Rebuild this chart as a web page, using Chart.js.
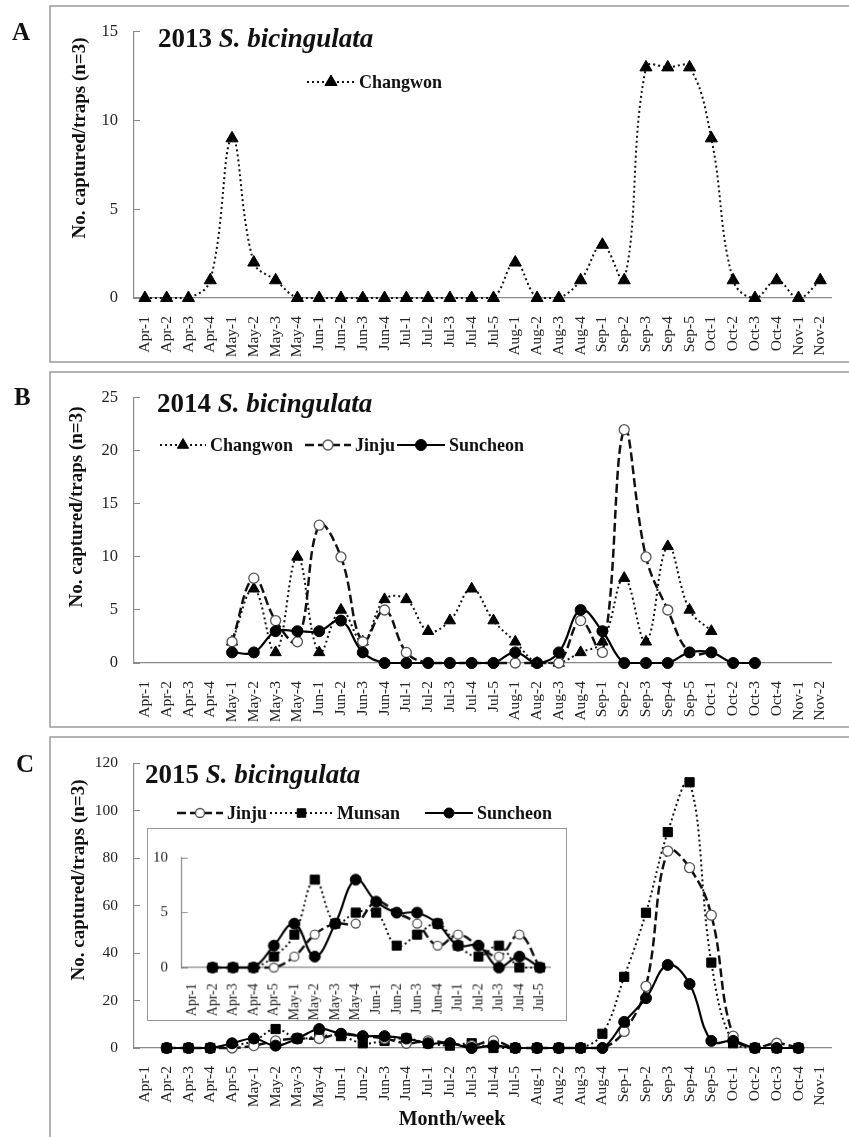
<!DOCTYPE html>
<html>
<head>
<meta charset="utf-8">
<script src="https://cdn.jsdelivr.net/npm/chart.js@4.4.0/dist/chart.umd.min.js"></script>
<style>
  body { margin: 0; background: #fff; }
  #page { position: relative; width: 849px; height: 1137px; overflow: hidden; }
  canvas { position: absolute; left: 0; }
  #inset { left: 147px; top: 828px; border: 1px solid #999; background: #fff; }
</style>
</head>
<body>
<div id="page">
  <canvas id="chartA" width="849" height="366" style="top:0px"></canvas>
  <canvas id="chartB" width="849" height="366" style="top:366px"></canvas>
  <canvas id="chartC" width="849" height="405" style="top:732px"></canvas>
  <canvas id="inset" width="420" height="193"></canvas>
</div>
<script>
// week labels
const weeks1314 = ['Apr-1','Apr-2','Apr-3','Apr-4','May-1','May-2','May-3','May-4','Jun-1','Jun-2','Jun-3','Jun-4',
  'Jul-1','Jul-2','Jul-3','Jul-4','Jul-5','Aug-1','Aug-2','Aug-3','Aug-4','Sep-1','Sep-2','Sep-3','Sep-4','Sep-5',
  'Oct-1','Oct-2','Oct-3','Oct-4','Nov-1','Nov-2'];
const weeks15 = ['Apr-1','Apr-2','Apr-3','Apr-4','Apr-5','May-1','May-2','May-3','May-4','Jun-1','Jun-2','Jun-3','Jun-4',
  'Jul-1','Jul-2','Jul-3','Jul-4','Jul-5','Aug-1','Aug-2','Aug-3','Aug-4','Sep-1','Sep-2','Sep-3','Sep-4','Sep-5',
  'Oct-1','Oct-2','Oct-3','Oct-4','Nov-1'];

// 2013
const changwon2013 = [0,0,0,1, 9,2,1,0, 0,0,0,0, 0,0,0,0,0, 2,0,0,1, 3,1,13,13,13, 9,1,0,1, 0,1];

// 2014
const changwon2014 = [null,null,null,null, 2,7,1,10, 1,5,2,6, 6,3,4,7,4, 2,0,0,1, 2,8,2,11,5, 3,null,null,null, null,null];
const jinju2014 = [null,null,null,null, 2,8,4,2, 13,10,2,5, 1,0,0,0,0, 0,0,0,4, 1,22,10,5,1, 1,null,null,null, null,null];
const suncheon2014 = [null,null,null,null, 1,1,3,3, 3,4,1,0, 0,0,0,0,0, 1,0,1,5, 3,0,0,0,1, 1,0,0,null, null,null];

// 2015
const jinju2015 = [null,0,0,0,0, 1,3,4,4, 6,5,4,2, 3,2,1,3,0, 0,0,0,0, 7,26,83,76,56, 5,0,2,0, null];
const munsan2015 = [null,0,0,0,1, 3,8,4,5, 5,2,3,4, 2,1,2,0,0, 0,0,0,6, 30,57,91,112,36, 2,0,0,0, null];
const suncheon2015 = [null,0,0,0,2, 4,1,4,8, 6,5,5,4, 2,2,0,1,0, 0,0,0,0, 11,21,35,27,3, 3,0,0,0, null];

// inset shows Apr-1 .. Jul-5
const insetCount = 18;

Chart.defaults.font.family = '"Liberation Serif", "Times New Roman", serif';
Chart.defaults.color = '#222';

const SERIF = '"Liberation Serif", "Times New Roman", serif';

// line styles per site
function changwonStyle(r) {
  return { borderColor: '#111', borderWidth: 2, borderDash: [2, 3], pointStyle: 'triangle', pointRadius: r,
    pointBackgroundColor: '#000', pointBorderColor: '#000', pointBorderWidth: 1 };
}
function jinjuStyle(r) {
  return { borderColor: '#111', borderWidth: 2.5, borderDash: [9, 4], pointStyle: 'circle', pointRadius: r,
    pointBackgroundColor: '#fff', pointBorderColor: '#555', pointBorderWidth: 1.3 };
}
function suncheonStyle(r) {
  return { borderColor: '#000', borderWidth: 2.2, borderDash: [], pointStyle: 'circle', pointRadius: r,
    pointBackgroundColor: '#000', pointBorderColor: '#000', pointBorderWidth: 1 };
}
function munsanStyle(r) {
  return { borderColor: '#111', borderWidth: 2, borderDash: [2, 3], pointStyle: 'rect', pointRadius: r,
    pointBackgroundColor: '#000', pointBorderColor: '#000', pointBorderWidth: 1 };
}

function series(label, data, style, order) {
  return Object.assign({ label: label, data: data, tension: 0.4, clip: false, order: order,
    pointHoverRadius: style.pointRadius, fill: false }, style);
}

// box, letter, title, y label, legend
const panelDecor = {
  id: 'panelDecor',
  beforeDraw(chart, args, o) {
    if (!o.letter) return;
    const ctx = chart.ctx;
    ctx.save();
    ctx.strokeStyle = '#9a9a9a';
    ctx.lineWidth = 1.5;
    ctx.strokeRect(o.box[0], o.box[1], o.box[2], o.box[3]);

    ctx.fillStyle = '#111';
    ctx.textBaseline = 'alphabetic';
    ctx.font = 'bold 25px ' + SERIF;
    ctx.fillText(o.letter, o.letterAt[0], o.letterAt[1]);

    ctx.font = 'bold 27px ' + SERIF;
    const yr = o.year + ' ';
    ctx.fillText(yr, o.titleAt[0], o.titleAt[1]);
    const w = ctx.measureText(yr).width;
    ctx.font = 'italic bold 27px ' + SERIF;
    ctx.fillText('S. bicingulata', o.titleAt[0] + w, o.titleAt[1]);

    if (o.xTitle) {
      ctx.font = 'bold 20px ' + SERIF;
      ctx.textAlign = 'center';
      ctx.fillText(o.xTitle, o.xTitleAt[0], o.xTitleAt[1]);
    }

    ctx.translate(o.yLabelAt[0], o.yLabelAt[1]);
    ctx.rotate(-Math.PI / 2);
    ctx.textAlign = 'center';
    ctx.textBaseline = 'middle';
    ctx.font = 'bold 19px ' + SERIF;
    ctx.fillText('No. captured/traps (n=3)', 0, 0);
    ctx.restore();
  },
  afterDatasetsDraw(chart, args, o) {
    if (!o.legend) return;
    const ctx = chart.ctx;
    o.legend.forEach(item => {
      const ds = chart.data.datasets[item.ds];
      const y = o.legendY;
      ctx.save();
      ctx.strokeStyle = ds.borderColor;
      ctx.lineWidth = ds.borderWidth;
      ctx.setLineDash(ds.borderDash || []);
      ctx.beginPath();
      ctx.moveTo(item.x, y);
      ctx.lineTo(item.x + item.len, y);
      ctx.stroke();
      ctx.setLineDash([]);
      ctx.fillStyle = ds.pointBackgroundColor;
      ctx.strokeStyle = ds.pointBorderColor;
      ctx.lineWidth = ds.pointBorderWidth;
      Chart.helpers.drawPoint(ctx, { pointStyle: ds.pointStyle, radius: item.r, rotation: 0,
        borderWidth: ds.pointBorderWidth }, item.x + item.len / 2, y);
      ctx.fillStyle = '#111';
      ctx.font = 'bold 18px ' + SERIF;
      ctx.textBaseline = 'middle';
      ctx.fillText(ds.label, item.x + item.len + 4, y + 1);
      ctx.restore();
    });
  }
};

function makeChart(id, labels, datasets, yMax, yStep, sizes, decor) {
  return new Chart(document.getElementById(id), {
    type: 'line',
    data: { labels: labels, datasets: datasets },
    plugins: [panelDecor],
    options: {
      responsive: false,
      animation: false,
      devicePixelRatio: 1,
      layout: { padding: { top: sizes.top, right: sizes.right, left: 0, bottom: 0 } },
      plugins: { legend: { display: false }, tooltip: { enabled: false }, panelDecor: decor },
      scales: {
        x: {
          type: 'category',
          offset: true,
          grid: { display: false },
          border: { display: true, color: '#8a8a8a', width: 1.2 },
          ticks: { autoSkip: false, maxRotation: 90, minRotation: 90, padding: sizes.xPad,
            font: { size: sizes.xFont }, color: '#222' },
          afterFit: s => { s.height = sizes.xHeight; }
        },
        y: {
          min: 0, max: yMax,
          grid: { display: true, drawOnChartArea: false, drawTicks: true, tickLength: -6, color: '#8a8a8a' },
          border: { display: true, color: '#8a8a8a', width: 1.2 },
          ticks: { stepSize: yStep, padding: sizes.yPad, font: { size: sizes.yFont }, color: '#222' },
          afterFit: s => { s.width = sizes.yWidth; }
        }
      }
    }
  });
}

// A: 2013
makeChart('chartA', weeks1314,
  [series('Changwon', changwon2013, changwonStyle(7), 1)],
  15, 5,
  { top: 20, right: 0, xHeight: 68, yWidth: 134, xPad: 10, yPad: 22, xFont: 15.5, yFont: 16.5 },
  { box: [50, 6, 830, 356], letter: 'A', letterAt: [12, 40], year: '2013', titleAt: [158, 47],
    yLabelAt: [80, 138], legendY: 82, legend: [{ ds: 0, x: 307, len: 48, r: 7 }] });

// B: 2014
makeChart('chartB', weeks1314,
  [series('Changwon', changwon2014, changwonStyle(6.5), 3),
   series('Jinju', jinju2014, jinjuStyle(5), 2),
   series('Suncheon', suncheon2014, suncheonStyle(5.5), 1)],
  25, 5,
  { top: 21, right: 0, xHeight: 69, yWidth: 134, xPad: 10, yPad: 22, xFont: 15.5, yFont: 16.5 },
  { box: [50, 6, 830, 355], letter: 'B', letterAt: [14, 39], year: '2014', titleAt: [157, 46],
    yLabelAt: [77, 141], legendY: 79,
    legend: [{ ds: 0, x: 160, len: 46, r: 6.5 }, { ds: 1, x: 305, len: 46, r: 5 }, { ds: 2, x: 397, len: 48, r: 5.5 }] });

// C: 2015
makeChart('chartC', weeks15,
  [series('Jinju', jinju2015, jinjuStyle(5), 2),
   series('Munsan', munsan2015, munsanStyle(6.5), 3),
   series('Suncheon', suncheon2015, suncheonStyle(5.5), 1)],
  120, 20,
  { top: 20, right: 0, xHeight: 89, yWidth: 134, xPad: 10, yPad: 22, xFont: 15.5, yFont: 15.5 },
  { box: [50, 5, 830, 403], letter: 'C', letterAt: [16, 40], year: '2015', titleAt: [145, 51],
    yLabelAt: [79, 148], xTitle: 'Month/week', xTitleAt: [452, 393], legendY: 81,
    legend: [{ ds: 0, x: 177, len: 46, r: 4.5 }, { ds: 1, x: 270, len: 63, r: 6 }, { ds: 2, x: 425, len: 48, r: 5 }] });

// inset: early season 2015
makeChart('inset', weeks15.slice(0, insetCount),
  [series('Jinju', jinju2015.slice(0, insetCount), jinjuStyle(4.5), 2),
   series('Munsan', munsan2015.slice(0, insetCount), munsanStyle(6.5), 3),
   series('Suncheon', suncheon2015.slice(0, insetCount), suncheonStyle(5.5), 1)],
  10, 5,
  { top: 10, right: 16, xHeight: 53, yWidth: 34, xPad: 8, yPad: 20, xFont: 14, yFont: 15 },
  {});
</script>
</body>
</html>
